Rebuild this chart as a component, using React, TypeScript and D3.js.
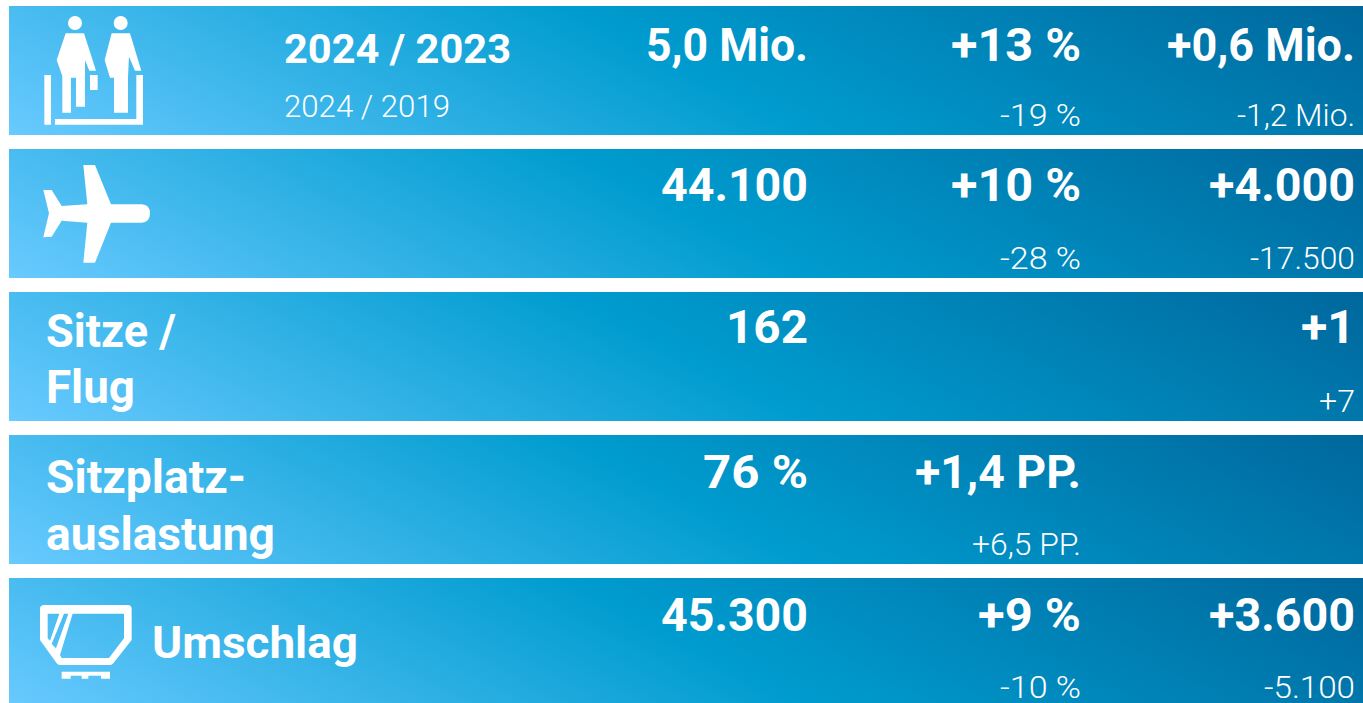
import React, { useEffect, useRef } from 'react';
import * as d3 from 'd3';

const width = 1363;
const height = 703;

const rows = ['passagiere', 'fluege', 'sitze', 'auslastung', 'umschlag'];
const columns = ['wert', 'prozent', 'absolut'];

const mainWert = ['5,0 Mio.', '44.100', '162', '76 %', '45.300'];
const mainProzent = ['+13 %', '+10 %', '', '+1,4 PP.', '+9 %'];
const mainAbsolut = ['+0,6 Mio.', '+4.000', '+1', '', '+3.600'];
const subProzent = ['-19 %', '-28 %', '', '+6,5 PP.', '-10 %'];
const subAbsolut = ['-1,2 Mio.', '-17.500', '+7', '', '-5.100'];

const yearLabels = ['2024 / 2023', '2024 / 2019'];
const sitzeLabels = ['Sitze /', 'Flug'];
const auslastungLabels = ['Sitzplatz-', 'auslastung'];
const umschlagLabel = 'Umschlag';

const fontFamily = 'Roboto, sans-serif';

// the original face is wider than Roboto, so every text gets stretched to the measured width
const textWidths: Record<string, number> = {
    '5,0 Mio.': 162, '+13 %': 130, '+0,6 Mio.': 188, '44.100': 147, '+10 %': 130, '+4.000': 146,
    '162': 82, '+1': 54, '76 %': 105, '+1,4 PP.': 166, '45.300': 147, '+9 %': 103, '+3.600': 146,
    '2024 / 2023': 227, 'Sitze /': 130, 'Flug': 89, 'Sitzplatz-': 200, 'auslastung': 229, 'Umschlag': 206,
    '2024 / 2019': 166, '-19 %': 81, '-1,2 Mio.': 118, '-28 %': 81, '-17.500': 105, '+7': 36,
    '+6,5 PP.': 109, '-10 %': 81, '-5.100': 91,
};

// icons at 3x
const peoplePath =
    'M197,100L252,100L288,212L268,212L255,180L255,320L228,320L228,233L213,233L213,338L187,338L187,228L170,180Z' +
    'M335,100L390,100L424,212L405,212L387,170L384,233L384,338L342,338L342,233L330,233L314,180Z' +
    'M270,225L293,225L293,270L270,270Z' +
    'M133,225L153,225L153,374L133,374Z' +
    'M165,357L409,357L409,225L429,225L429,374L165,374Z';
const planePath =
    'M250,495L285,495L333,613L425,613Q450,615 450,640Q450,668 425,668L333,668L285,788L250,788L262,668L185,662L155,710L130,712L147,640L130,570L155,570L185,618L262,613Z';
const containerPath =
    'M132,105L383,105Q395,105 395,117L395,210L340,280Q336,285 330,285L180,285Q174,285 170,280L120,210L120,117Q120,105 132,105Z' +
    'M218,131L372,131L372,205L327,264L185,264L180,255Z' +
    'M143,131L178,131L150,212L143,205Z' +
    'M192,131L205,131L168,235L155,222Z';
const palletPath =
    'M185,305L330,305L330,326L303,326L303,317L265,317L265,326L245,326L245,317L212,317L212,326L185,326Z';

const App = () => {
    const ref = useRef<SVGSVGElement | null>(null);

    useEffect(() => {
        const svg = d3.select(ref.current);
        svg.selectAll('*').remove();

        const yScale = d3.scaleBand()
            .domain(rows)
            .range([6, 707])
            .paddingInner(14 / 143);

        const xScale = d3.scaleOrdinal<string, number>()
            .domain(columns)
            .range([808, 1081, 1355]);

        const grad = svg.append('defs').append('linearGradient')
            .attr('id', 'rowFill')
            .attr('x1', -0.071).attr('y1', 0.602)
            .attr('x2', 1.071).attr('y2', 0.398);
        grad.append('stop').attr('offset', '0%').attr('stop-color', '#69caff');
        grad.append('stop').attr('offset', '50%').attr('stop-color', '#009ccf');
        grad.append('stop').attr('offset', '100%').attr('stop-color', '#00679c');

        svg.selectAll('.row')
            .data(rows)
            .enter().append('rect')
            .attr('class', 'row')
            .attr('x', 9)
            .attr('y', d => yScale(d)!)
            .attr('width', width - 9)
            .attr('height', yScale.bandwidth())
            .attr('fill', 'url(#rowFill)');

        const drawText = (x: number, y: number, text: string, size: number, weight: number, anchor: string) => {
            svg.append('text')
                .attr('x', x)
                .attr('y', y)
                .attr('text-anchor', anchor)
                .attr('font-family', fontFamily)
                .attr('font-size', size)
                .attr('font-weight', weight)
                .attr('fill', '#ffffff')
                .attr('textLength', textWidths[text])
                .attr('lengthAdjust', 'spacingAndGlyphs')
                .text(text);
        };

        const bigSize = 46;
        const smallSize = 31.5;
        const big_y = [55, 52, 51, 53, 53];
        const small_y = 120;

        const mainByColumn = [mainWert, mainProzent, mainAbsolut];
        rows.forEach((row, i) => {
            const y0 = yScale(row)!;
            columns.forEach((col, c) => {
                const value = mainByColumn[c][i];
                if (value) drawText(xScale(col), y0 + big_y[i], value, bigSize, 700, 'end');
            });
            if (subProzent[i]) drawText(xScale('prozent'), y0 + small_y, subProzent[i], smallSize, 300, 'end');
            if (subAbsolut[i]) drawText(xScale('absolut'), y0 + small_y, subAbsolut[i], smallSize, 300, 'end');
        });

        // row labels
        drawText(284, 63, yearLabels[0], 40, 700, 'start');
        drawText(284, 117, yearLabels[1], 31, 300, 'start');
        const sitzeY = yScale('sitze')!;
        drawText(46, sitzeY + 55, sitzeLabels[0], bigSize, 700, 'start');
        drawText(46, sitzeY + 111, sitzeLabels[1], bigSize, 700, 'start');
        const auslastungY = yScale('auslastung')!;
        drawText(46, auslastungY + 58, auslastungLabels[0], bigSize, 700, 'start');
        drawText(46, auslastungY + 115, auslastungLabels[1], bigSize, 700, 'start');
        drawText(152, yScale('umschlag')! + 80, umschlagLabel, 45, 700, 'start');

        // icons
        const icons = svg.append('g').attr('fill', '#ffffff');
        icons.append('circle').attr('cx', 75).attr('cy', 23).attr('r', 7);
        icons.append('circle').attr('cx', 120.7).attr('cy', 23).attr('r', 7);
        icons.append('path').attr('transform', 'scale(0.3333)').attr('d', peoplePath);
        icons.append('path').attr('transform', 'scale(0.3333)').attr('d', planePath);
        icons.append('path')
            .attr('transform', 'translate(0,570) scale(0.3333)')
            .attr('fill-rule', 'evenodd')
            .attr('d', containerPath);
        icons.append('path')
            .attr('transform', 'translate(0,570) scale(0.3333)')
            .attr('d', palletPath);
    }, []);

    return (
        <svg
            ref={ref}
            width={width}
            height={height}
            style={{ position: 'absolute', left: 0, top: 0, background: '#ffffff' }}
        />
    );
};

export default App;
